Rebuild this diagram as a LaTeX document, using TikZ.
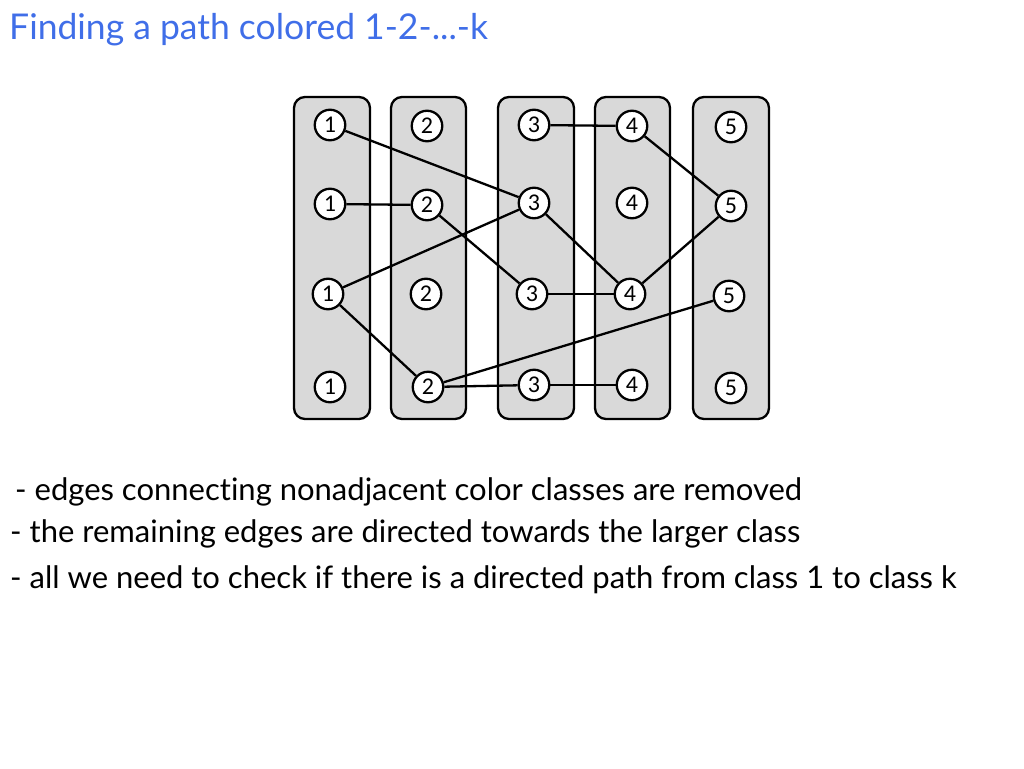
\documentclass[tikz,border=0pt]{standalone}
\usepackage{fontspec}
\setmainfont[Ligatures={NoCommon,NoRare,NoContextual}]{Lato}
\newfontfamily\numfont{Carlito}
\definecolor{titleblue}{RGB}{64,110,232}
\definecolor{boxgray}{RGB}{217,217,217}
\begin{document}
\begin{tikzpicture}[x=1pt,y=-1pt,
  classbox/.style={draw=black,line width=2.3pt,fill=boxgray,rounded corners=11pt},
  vtx/.style={circle,draw=black,line width=2.3pt,fill=white,minimum size=30.5pt,inner sep=0pt,font=\numfont\fontsize{24}{24}\selectfont},
  edge/.style={draw=black,line width=2.3pt},
  txt/.style={anchor=west,inner sep=0pt,font=\fontsize{31}{34}\selectfont}]
\useasboundingbox (0,0) rectangle (1024,768);
% class boxes
\draw[classbox] (294,97) rectangle (370,419);
\draw[classbox] (391,97) rectangle (466,419);
\draw[classbox] (498,97) rectangle (574,419);
\draw[classbox] (595,97) rectangle (670,419);
\draw[classbox] (693,97) rectangle (769,419);
% vertices
\node[vtx] (a1) at (330,125) {1};
\node[vtx] (a2) at (330,204) {1};
\node[vtx] (a3) at (328,294) {1};
\node[vtx] (a4) at (330,387) {1};
\node[vtx] (b1) at (427,126) {2};
\node[vtx] (b2) at (427,205) {2};
\node[vtx] (b3) at (426,294) {2};
\node[vtx] (b4) at (428,387) {2};
\node[vtx] (c1) at (534,125) {3};
\node[vtx] (c2) at (534,203) {3};
\node[vtx] (c3) at (532,294) {3};
\node[vtx] (c4) at (534,385) {3};
\node[vtx] (d1) at (632,126) {4};
\node[vtx] (d2) at (632,203) {4};
\node[vtx] (d3) at (630,294) {4};
\node[vtx] (d4) at (632,385) {4};
\node[vtx] (e1) at (731,127) {5};
\node[vtx] (e2) at (731,206) {5};
\node[vtx] (e3) at (729,296) {5};
\node[vtx] (e4) at (731,388) {5};
% edges
\draw[edge] (a1) -- (c2);
\draw[edge] (a2) -- (b2);
\draw[edge] (a3) -- (c2);
\draw[edge] (a3) -- (b4);
\draw[edge] (b2) -- (c3);
\draw[edge] (b4) -- (e3);
\draw[edge] (b4) -- (c4);
\draw[edge] (c1) -- (d1);
\draw[edge] (c2) -- (d3);
\draw[edge] (c3) -- (d3);
\draw[edge] (c4) -- (d4);
\draw[edge] (d1) -- (e2);
\draw[edge] (d3) -- (e2);
% texts
\node[txt,text=titleblue,font=\fontsize{35.5}{38}\selectfont] (title) at (9,30) {Finding a path colored 1-2-...-k};
\node[txt] (t1) at (15,492) {- edges connecting nonadjacent color classes are removed};
\node[txt] (t2) at (10,534) {- the remaining edges are directed towards the larger class};
\node[txt] (t3) at (10,580) {- all we need to check if there is a directed path from class 1 to class k};
\end{tikzpicture}
\end{document}
